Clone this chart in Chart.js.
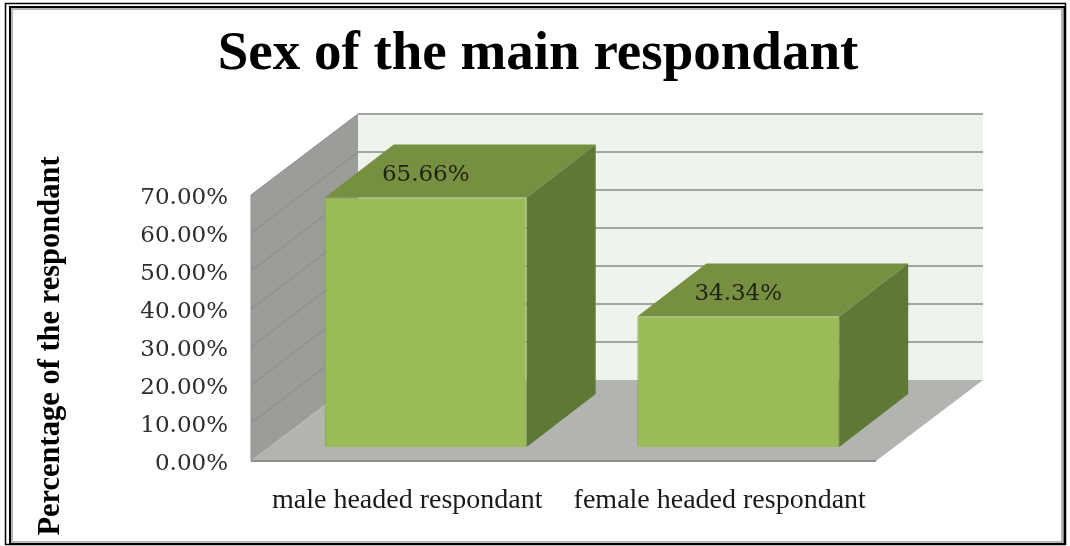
<!DOCTYPE html>
<html>
<head>
<meta charset="utf-8">
<script src="https://cdn.jsdelivr.net/npm/chart.js@4"></script>
<style>
  html, body { margin: 0; padding: 0; background: #fff; }
  #wrap { width: 1070px; height: 546px; }
</style>
</head>
<body>
<div id="wrap"><canvas id="chart" width="1070" height="546"></canvas></div>
<script>
const categories = ['male headed respondant', 'female headed respondant'];
const values = [65.66, 34.34];
const valueLabels = ['65.66%', '34.34%'];
const tickMax = 70;
const tickStep = 10;

const chartTitle = 'Sex of the main respondant';
const yTitle = 'Percentage of the respondant';

// 3D look: offsets of the back wall and of the bars, in pixels
const WALL_DX = 107, WALL_DY = 81;
const INSET_DX = 18.5, INSET_DY = 14;
const BAR_DX = 69, BAR_DY = 53;

function poly(ctx, pts, fill) {
  ctx.beginPath();
  pts.forEach((p, i) => i ? ctx.lineTo(p[0], p[1]) : ctx.moveTo(p[0], p[1]));
  ctx.closePath();
  ctx.fillStyle = fill;
  ctx.fill();
}

function line(ctx, x1, y1, x2, y2, color, width) {
  ctx.beginPath();
  ctx.moveTo(x1, y1);
  ctx.lineTo(x2, y2);
  ctx.strokeStyle = color;
  ctx.lineWidth = width;
  ctx.stroke();
}

const box3d = {
  id: 'box3d',
  afterLayout(chart) {
    // centre the title on the whole frame, not on the padded area
    chart.titleBlock.left = 0;
    chart.titleBlock.right = 1076;
  },
  beforeDatasetsDraw(chart) {
    const { ctx, chartArea: a, scales: { y } } = chart;
    ctx.save();
    // back wall, side wall, floor
    poly(ctx, [[a.left + WALL_DX, a.top - WALL_DY], [a.right + WALL_DX, a.top - WALL_DY],
      [a.right + WALL_DX, a.bottom - WALL_DY], [a.left + WALL_DX, a.bottom - WALL_DY]], '#eef3ec');
    poly(ctx, [[a.left, a.top], [a.left + WALL_DX, a.top - WALL_DY],
      [a.left + WALL_DX, a.bottom - WALL_DY], [a.left, a.bottom]], '#9a9d98');
    poly(ctx, [[a.left, a.bottom], [a.right, a.bottom],
      [a.right + WALL_DX, a.bottom - WALL_DY], [a.left + WALL_DX, a.bottom - WALL_DY]], '#b1b4af');

    y.ticks.forEach(t => {
      const py = y.getPixelForValue(t.value);
      if (t.value > 0) {
        line(ctx, a.left, py, a.left + WALL_DX, py - WALL_DY, '#85888a', 1);
        line(ctx, a.left + WALL_DX, py - WALL_DY, a.right + WALL_DX, py - WALL_DY, '#a2a69e', 2);
      }
    });
    line(ctx, a.left, a.bottom, a.right, a.bottom, '#8c8f8b', 2);
    line(ctx, a.left, a.top, a.left, a.bottom, '#8c8f8b', 1);

    // top and side faces of the bars
    chart.getDatasetMeta(0).data.forEach(bar => {
      const l = bar.x - bar.width / 2 + INSET_DX;
      const r = bar.x + bar.width / 2 + INSET_DX;
      const t = bar.y - INSET_DY;
      const b = bar.base - INSET_DY;
      poly(ctx, [[l, t], [r, t], [r + BAR_DX, t - BAR_DY], [l + BAR_DX, t - BAR_DY]], '#778f41');
      poly(ctx, [[r, t], [r + BAR_DX, t - BAR_DY], [r + BAR_DX, b - BAR_DY], [r, b]], '#5f7835');
    });
    ctx.restore();

    // front faces are drawn by Chart.js, shifted into the box
    ctx.save();
    ctx.translate(INSET_DX, -INSET_DY);
  },
  afterDatasetsDraw(chart) {
    const { ctx } = chart;
    ctx.restore();
    ctx.save();
    ctx.font = '23px "DejaVu Serif"';
    ctx.fillStyle = '#1d2415';
    ctx.textAlign = 'center';
    ctx.textBaseline = 'middle';
    chart.getDatasetMeta(0).data.forEach((bar, i) => {
      ctx.fillText(valueLabels[i], bar.x + INSET_DX, bar.y - INSET_DY - 22);
    });
    ctx.restore();
  },
  afterDraw(chart) {
    const { ctx } = chart;
    ctx.save();
    // rotated axis title, sits lower than the plot centre
    ctx.translate(59, 346);
    ctx.rotate(-Math.PI / 2);
    ctx.font = 'bold 30.5px "Liberation Serif"';
    ctx.fillStyle = '#000';
    ctx.textAlign = 'center';
    ctx.textBaseline = 'alphabetic';
    ctx.fillText(yTitle, 0, 0);
    ctx.restore();

    // picture frame
    ctx.save();
    ctx.strokeStyle = '#000';
    ctx.lineWidth = 1.5;
    ctx.strokeRect(5.5, 3.5, 1060, 541);
    ctx.lineWidth = 2;
    ctx.strokeRect(10, 7, 1054.5, 537);
    ctx.strokeStyle = '#b5b5b5';
    ctx.lineWidth = 2;
    ctx.strokeRect(12, 9, 1050, 533);
    ctx.restore();
  }
};

new Chart(document.getElementById('chart'), {
  type: 'bar',
  data: {
    labels: categories,
    datasets: [{
      data: values,
      backgroundColor: '#9bbb59',
      borderColor: '#86a548',
      borderWidth: 1,
      categoryPercentage: 1,
      barPercentage: 0.646,
    }],
  },
  plugins: [box3d],
  options: {
    responsive: false,
    animation: false,
    layout: { padding: { left: 0, right: 194, top: 0, bottom: 0 } },
    plugins: {
      legend: { display: false },
      tooltip: { enabled: false },
      title: {
        display: true,
        text: chartTitle,
        color: '#000',
        font: { family: '"Liberation Serif"', size: 55, weight: 'bold', lineHeight: 1 },
        padding: { top: 27, bottom: 113 },
      },
    },
    scales: {
      x: {
        grid: { display: false },
        border: { display: false },
        ticks: {
          color: '#1a1a1a',
          font: { family: '"Liberation Serif"', size: 28 },
          padding: 15,
          maxRotation: 0,
        },
        afterFit(scale) { scale.height = 85; },
      },
      y: {
        min: 0,
        max: tickMax,
        grid: { display: false },
        border: { display: false },
        ticks: {
          stepSize: tickStep,
          color: '#2e2e2e',
          font: { family: '"DejaVu Serif"', size: 23 },
          padding: 15,
          labelOffset: 3,
          callback: v => v.toFixed(2) + '%',
        },
        afterFit(scale) { scale.width = 251; },
      },
    },
  },
});
</script>
</body>
</html>
